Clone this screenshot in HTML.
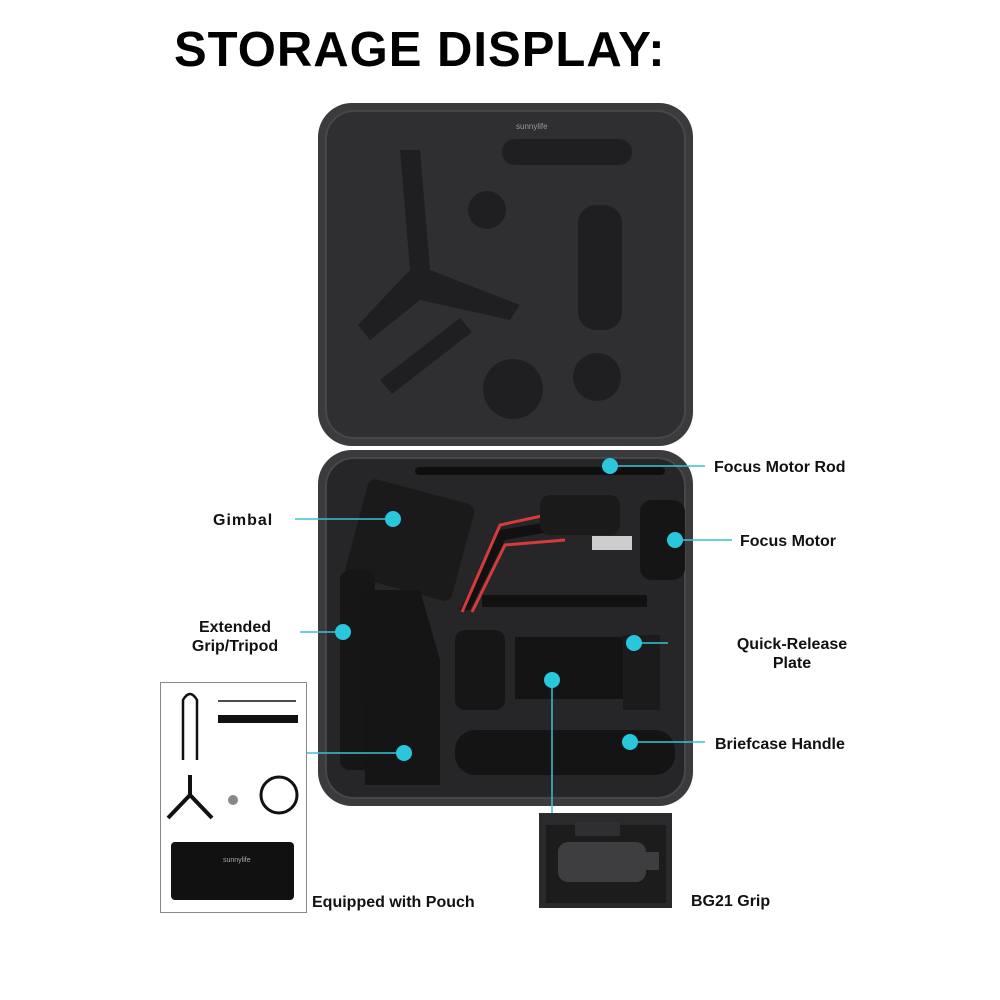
<!DOCTYPE html>
<html><head><meta charset="utf-8"><style>
html,body{margin:0;padding:0;background:#fff;}
svg{display:block}
text{font-family:"Liberation Sans",sans-serif;}
.lb{font-family:"Noto Sans CJK JP","Liberation Sans",sans-serif;}
</style></head><body>
<svg width="1000" height="1000" viewBox="0 0 1000 1000">
<text x="174" y="66" font-size="49" font-weight="bold" fill="#000" letter-spacing="1">STORAGE DISPLAY:</text>
<!-- lid -->
<rect x="318" y="103" width="375" height="343" rx="34" fill="#3b3b3d"/>
<rect x="326" y="111" width="359" height="327" rx="28" fill="#2f2f31" stroke="#474749" stroke-width="2"/>
<rect x="502" y="139" width="130" height="26" rx="13" fill="#1f1f21"/>
<rect x="578" y="205" width="44" height="125" rx="18" fill="#1f1f21"/>
<circle cx="487" cy="210" r="19" fill="#1f1f21"/>
<circle cx="513" cy="389" r="30" fill="#1f1f21"/>
<circle cx="597" cy="377" r="24" fill="#1f1f21"/>
<path d="M400 150 L420 150 L430 270 L520 305 L510 320 L420 300 L370 340 L358 325 L410 270 Z" fill="#1f1f21"/>
<path d="M380 380 L460 318 L472 332 L392 394 Z" fill="#1f1f21"/>
<text x="516" y="129" font-size="8" fill="#999">sunnylife</text>
<!-- base -->
<rect x="318" y="450" width="375" height="356" rx="34" fill="#3b3b3d"/>
<rect x="326" y="458" width="359" height="340" rx="28" fill="#262628" stroke="#474749" stroke-width="2"/>
<rect x="415" y="467" width="250" height="8" rx="4" fill="#0f0f10"/>
<rect x="355" y="490" width="110" height="100" rx="8" fill="#1a1a1b" transform="rotate(15 410 540)"/>
<path d="M460 610 L500 530 L560 520 L560 530 L505 540 L470 610 Z" fill="#111"/>
<path d="M462 612 L500 525 L560 512" stroke="#d43b3b" stroke-width="3" fill="none"/>
<path d="M472 612 L505 545 L565 540" stroke="#d43b3b" stroke-width="3" fill="none"/>
<rect x="540" y="495" width="80" height="40" rx="10" fill="#1a1a1b"/>
<rect x="592" y="536" width="40" height="14" fill="#ccc"/>
<rect x="640" y="500" width="45" height="80" rx="12" fill="#151516"/>
<rect x="340" y="570" width="35" height="200" rx="10" fill="#161617"/>
<path d="M360 590 L420 590 L440 660 L440 785 L365 785 Z" fill="#151516"/>
<rect x="455" y="630" width="50" height="80" rx="10" fill="#161617"/>
<rect x="482" y="595" width="165" height="12" fill="#111"/>
<rect x="515" y="637" width="115" height="62" fill="#141415"/>
<rect x="623" y="635" width="37" height="75" fill="#1b1b1c"/>
<rect x="455" y="730" width="220" height="45" rx="20" fill="#141415"/>
<!-- connectors -->
<g stroke="#39c3d4" stroke-width="1.5" fill="none">
<line x1="610" y1="466" x2="705" y2="466"/>
<line x1="295" y1="519" x2="393" y2="519"/>
<line x1="675" y1="540" x2="732" y2="540"/>
<line x1="300" y1="632" x2="343" y2="632"/>
<line x1="634" y1="643" x2="668" y2="643"/>
<line x1="552" y1="680" x2="552" y2="813"/>
<line x1="630" y1="742" x2="705" y2="742"/>
<line x1="306" y1="753" x2="404" y2="753"/>
</g>
<g fill="#29c6dc">
<circle cx="610" cy="466" r="8"/><circle cx="393" cy="519" r="8"/><circle cx="675" cy="540" r="8"/>
<circle cx="343" cy="632" r="8"/><circle cx="634" cy="643" r="8"/><circle cx="552" cy="680" r="8"/>
<circle cx="630" cy="742" r="8"/><circle cx="404" cy="753" r="8"/>
</g>
<g font-size="16" font-weight="bold" fill="#111" class="lb">
<text x="714" y="472">Focus Motor Rod</text>
<text x="213" y="525" letter-spacing="1">Gimbal</text>
<text x="740" y="546">Focus Motor</text>
<text x="235" y="632" text-anchor="middle">Extended</text>
<text x="235" y="651" text-anchor="middle">Grip/Tripod</text>
<text x="792" y="649" text-anchor="middle">Quick-Release</text>
<text x="792" y="668" text-anchor="middle">Plate</text>
<text x="715" y="749">Briefcase Handle</text>
<text x="312" y="907">Equipped with Pouch</text>
<text x="691" y="906">BG21 Grip</text>
</g>
<!-- inset box -->
<rect x="160.5" y="682.5" width="146" height="230" fill="#fff" stroke="#888"/>
<path d="M183 760 L183 700 Q190 688 197 700 L197 760" stroke="#111" stroke-width="2.5" fill="none"/>
<line x1="218" y1="701" x2="296" y2="701" stroke="#111" stroke-width="1.5"/>
<rect x="218" y="715" width="80" height="8" fill="#111"/>
<path d="M190 795 L168 818 M190 795 L212 818 M190 795 L190 775" stroke="#111" stroke-width="4"/>
<circle cx="233" cy="800" r="5" fill="#888"/>
<circle cx="279" cy="795" r="18" stroke="#111" stroke-width="3" fill="none"/>
<rect x="171" y="842" width="123" height="58" rx="4" fill="#111"/>
<text x="223" y="862" font-size="7" fill="#aaa">sunnylife</text>
<!-- bg21 -->
<rect x="539" y="813" width="133" height="95" fill="#2a2a2c"/>
<rect x="546" y="825" width="120" height="78" fill="#1c1c1d"/>
<rect x="558" y="842" width="88" height="40" rx="10" fill="#3e3e40"/>
<rect x="645" y="852" width="14" height="18" fill="#3e3e40"/>
<rect x="575" y="822" width="45" height="14" fill="#2f2f31"/>
</svg>
</body></html>
